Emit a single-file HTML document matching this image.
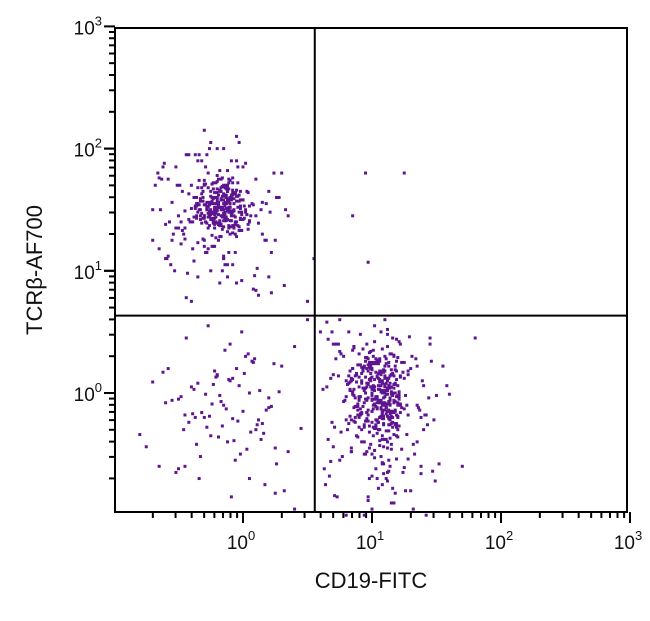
<!DOCTYPE html>
<html><head><meta charset="utf-8">
<style>
html,body{margin:0;padding:0;background:#fff;}
body{width:650px;height:616px;overflow:hidden;font-family:"Liberation Sans",sans-serif;}
svg text{font-family:"Liberation Sans",sans-serif;fill:#111;}
</style></head>
<body>
<svg id="chart" width="650" height="616" viewBox="0 0 650 616" xmlns="http://www.w3.org/2000/svg">
<rect x="115" y="28" width="512" height="484" fill="none" stroke="#000" stroke-width="2"/>
<g id="ticks"></g>
<g id="dots" fill="#5e1590"></g>
<g id="gates"></g>
<text x="371" y="588" font-size="22" text-anchor="middle">CD19-FITC</text>
<text x="42" y="270" font-size="22" text-anchor="middle" transform="rotate(-90 42 270)">TCRβ-AF700</text>
</svg>
<script>
// decades shown on axes (log10)
const xDecades=[0,1,2,3];
const yDecades=[0,1,2,3];
// quadrant gate positions (linear units)
const gateX=3.6;
const gateY=4.3;
// events, values are log10 x 100
const tX=[-15,-20,-10,-25,-5,-18,-12,-30,0,-22,-8,-16,-35,-2,-14,-27,-11,-19,5,-24,-13,-6,-31,-17,-9,-21,-40,-4,-15,-26,-12,-18,8,-23,-10,-33,-7,-20,-14,-28,-1,-16,-45,-11,-19,-5,-25,-13,12,-22,-17,-9,-29,-3,-15,-37,-12,-21,2,-18,-8,-24,-14,-32,-6,-20,-11,-27,4,-16,-50,-13,-19,-7,-23,-10,-30,-2,-17,-15,-22,-12,-26,-9,-18,-34,-5,-14,-21,10,-16,-28,-11,-20,-3,-24,-13,-38,-8,-17,-19,-12,-25,-6,-15,-31,0,-22,-10,-18,-42,-14,-27,-4,-20,-16,15,-23,-9,-13,-29,-7,-21,-17,-36,-2,-11,-19,-26,-14,-55,-8,-24,-16,3,-20,-12,-30,-6,-18,-22,-10,-15,-33,-1,-25,-13,-19,-9,-28,-17,6,-21,-11,-39,-14,-23,-7,-16,-26,-12,-20,-4,-31,-18,-60,-10,-15,18,-24,-8,-13,-22,-35,-5,-17,-27,-11,-19,-3,-14,-29,-16,-21,-9,-47,-12,-25,1,-18,-7,-20,-15,-32,-10,-23,20,-30,-45,-5,2,-38,-52,10,-28,-65,22,-40];
const tY=[155,160,148,165,140,152,170,145,158,135,162,150,155,142,168,147,175,138,153,160,144,130,157,165,149,172,151,137,163,146,158,128,154,167,141,159,150,178,143,156,133,161,149,152,125,166,146,155,139,164,150,145,171,136,158,153,142,160,148,182,131,156,147,163,140,157,150,168,134,152,145,162,138,155,120,149,174,143,159,136,152,165,147,158,141,154,128,161,150,145,169,139,156,152,133,148,160,144,176,137,153,157,142,164,150,126,158,146,155,140,163,148,118,152,167,144,156,139,160,151,185,135,147,158,143,153,115,162,149,141,156,137,171,150,146,159,132,154,144,165,138,152,110,157,148,161,142,155,136,150,168,145,127,158,140,153,147,163,134,156,105,149,172,143,152,138,160,146,155,129,164,141,150,123,157,145,180,137,153,148,162,140,100,155,146,133,159,150,143,166,136,152,112,147,158,141,95,170,126,90,188,108,135,84,195,118,82,75];
const tX2=[-30,-5,-45,10,-60,-20,25,-38,-12,-52,5,-28,-68,15,-42,-8,-33,30,-55,-18,-3,-48,20,-25,-62,-10,-36,8,-58,-22,35,-44,-15,-2,-50,12,-32,-70,-6,-40,18,-26,-57,-14,28,-46,0,-35,-64,-19,22,-41,-9,-53,3,-30,-66,-16,32,-49,-24,7,-37,-59,-11,26,-43,-4,-54,14,-29,-63,-21,-1,-47,17,-34,-56,-13,24,-39,-7,-51,11,-27,-61,-17,33,-44,-23,4,-36,-58,-12,21,-48,-31,9,-42,-65];
const tY2=[120,190,135,175,110,200,125,160,95,185,140,115,170,130,195,105,150,180,125,90,205,140,165,100,185,130,155,85,175,120,145,195,110,165,135,80,190,150,115,170,125,200,140,105,160,130,185,95,150,175,115,140,190,100,165,125,180,145,88,170,120,155,195,110,135,160,98,185,130,150,115,175,140,92,165,125,195,105,155,180,118,145,170,102,135,188,128,150,78,172,138,160,112,182,148,122,165,96,142,176];
const tCX=[-20,-10,-30,-15,-5,-25,-12,-35,0,-18,-8,-28,-22,-3,-14,-32,-9,-24,2,-17,-27,-6,-20,-36,-11,-1,-23,-13,-30,-7,-19,-26,4,-16,-33,-10,-21,-4,-29,-15,-12,-24,-2,-34,-18,-8,-27,-14,-20,5,-31,-11,-23,-6,-17,-37,-13,-26,-3,-19,-9,-29,-16,-22,1,-33,-12,-25,-7,-18,-35,-10,-21,-5,-28,-15,-24,3,-14,-32,-20,-8,-26,-11,-30,-17,-2,-23,-13,-36,-19,-6,-27,-16,-9,-22,0,-34,-12,-25];
const tCY=[150,160,145,170,140,155,165,148,158,138,172,152,143,162,147,168,141,157,150,175,144,163,139,153,167,146,159,142,171,149,156,137,164,151,145,174,140,161,154,147,169,143,158,150,139,166,152,145,173,141,160,148,155,163,138,151,170,144,157,146,162,140,176,149,153,142,165,147,159,137,168,152,144,161,150,141,171,146,156,139,164,148,154,172,143,158,151,140,167,145,162,138,153,169,147,160,142,174,149,155];
const bX=[108,112,104,115,100,110,106,118,102,113,109,96,116,107,111,103,120,105,114,99,108,117,101,110,106,123,104,112,97,115,109,102,119,107,111,94,113,105,108,121,100,116,110,103,114,98,109,118,106,112,92,115,104,110,125,101,107,113,99,117,108,105,111,95,120,103,114,109,100,116,106,112,127,102,108,97,115,110,104,119,107,113,93,111,105,117,101,109,122,106,114,98,112,103,108,118,100,115,110,90,113,106,120,104,111,96,116,108,102,124,109,105,114,99,117,107,112,101,119,94,110,106,115,103,128,108,113,97,111,104,118,100,109,121,106,114,91,112,107,116,102,110,99,119,105,113,108,126,101,115,96,111,104,117,109,103,122,107,114,98,112,106,118,100,110,88,116,105,113,108,130,102,111,95,119,107,114,104,109,120,99,115,106,112,93,117,103,110,108,123,101,113,97,116,105,111,107,119,102,114,89,109,106,121,104,112,100,117,108,115,96,110,103,125,107,113,99,118,105,111,86,116,102,109,132,106,114,98,112,104,120,101,108,115,94,110,107,118,103,113,135,97,122,84,128,92,138,100,126,87,140,95];
const bY=[0,10,-8,15,-15,5,-20,22,-5,12,-25,8,-2,18,-12,28,-30,3,-10,20,-18,7,-35,14,-6,25,-22,2,-14,32,-4,11,-28,17,-9,-40,6,24,-16,-1,13,-24,30,-11,4,-32,19,-7,9,-45,16,-19,26,-3,-13,35,1,-26,21,-8,-38,12,-17,-50,29,-5,8,-21,-2,15,-30,38,-10,5,-15,23,-42,0,-23,11,-6,-55,18,-12,27,-34,3,-19,14,-8,-60,33,-1,-27,9,-14,20,-46,6,-4,25,-20,-36,13,-11,40,-16,2,-29,17,-58,-7,-22,10,31,-13,-65,4,-25,22,-9,-39,15,-3,-18,36,-31,7,-70,-12,19,-24,-44,1,26,-6,-17,12,-52,-28,42,-10,5,-35,16,-21,-75,-2,24,-15,-48,8,-33,30,-8,-62,13,-19,-4,21,-40,3,-26,-68,18,-11,45,-30,-14,10,-80,-5,28,-23,-54,6,-37,14,-9,-20,34,-1,-43,-72,20,-16,-29,2,-58,-12,25,-7,-85,16,-24,-38,9,-3,-47,32,-18,-66,11,-27,-13,48,-50,4,-35,-90,-6,22,-22,-61,15,-9,-42,7,-78,-31,37,-15,-53,0,-95,18,-26,-45,12,-70,-19,30,-57,5,-100,-38,50,-82,25,-64,-10,-88,40,-48,15,-30,-20,5];
const bX2=[90,125,80,135,95,70,140,85,118,75,130,100,65,145,88,122,78,138,92,115,72,150,84,128,98,68,142,82,120,76,134,94,62,148,86,124,74,136,102,66,155,80,126,90,71,140,84,119,96,64,146,79,132,88,112,69,152,83,127,93,73,139,87,121,77,144,99,67,131,81,160,91,70,137,85,117,75,143,97,63,129,89,114,72,149,82,123,95,68,141,86,116,78,135,92,65,147,80,125,100,74,133,87,119,71,158,94,66,138,83,128,90,76,142,96,69,130,84,121,73];
const bY2=[-20,25,10,-40,-5,15,-30,35,0,-55,20,-15,5,45,-35,-10,30,-60,8,-25,40,-2,-45,18,-70,12,-18,50,-8,-32,28,-50,3,-22,38,-65,14,-12,55,-38,22,-3,-80,32,-28,6,-48,44,-16,-75,26,-6,-42,16,52,-24,-58,2,-34,36,-85,10,-20,42,-52,-4,24,-68,30,-30,-1,48,-44,-14,20,-90,34,-26,8,-62,46,-36,-9,28,-72,14,-46,4,-56,-18,38,-78,-7,22,-40,58,-64,-22,12,-95,40,-50,-11,26,-84,6,-28,44,-66,18,-54,-3,32,-100,-16,50];
const bCX=[100,92,108,85,115,96,104,88,112,99,82,118,94,106,90,110,86,102,120,97,91,113,84,105,100,117,89,95,109,83,121,98,93,111,87,103,114,81,107,96,119,90,101,85,116,94,108,88,122,99,92,104,86,112,97,115,83,106,101,89,118,95,110,87,103,120,91,98,113,84,107,100,117,93,105,82,111,96,119,88,102,90,114,97,108,85,121,94,101,116,89,104,92,110,86,99,118,95,106,83,112,100,91,115,87,103,96,109,120,93,98,84,113,105,90,117,97,88,107,101,122,92,111,86,104,95,116,99,89,108,94,119,85,102,110,91,97,114,100,87];
const bCY=[0,10,-10,20,-20,5,-5,15,-15,25,-25,8,-8,28,-28,12,-12,2,-2,18,-18,22,-22,6,-6,14,-14,26,-26,3,-3,11,-11,24,-24,17,-17,7,-7,29,-27,13,-13,1,-1,21,-21,9,-9,16,-16,27,-23,4,-4,19,-19,10,-10,23,-15,0,-8,14,-26,6,-3,25,-20,12,-12,3,-6,18,-24,8,-1,20,-18,15,-9,5,-22,28,-14,11,-5,2,-28,16,-11,26,-17,7,-2,22,-25,13,-7,9,-19,19,-13,1,-4,24,-21,17,-10,4,-27,10,-15,27,-6,0,-23,15,-8,6,-16,21,-12,3,-3,29,-20,12,-9,8,-26,18,-1,5,-14,23,-18,14,-5];
const dnX=[-15,5,-30,-10,10,-40,0,-20,15,-50,-5,-25,20,-35,-12,8,-45,-18,25,-8,-60,2,-28,12,-38,-2,-22,18,-55,-14,6,-32,30,-6,-48,-20,14,-42,-10,22,-65,-3,-26,9,-36,-16,28,-52,1,-24,16,-44,-8,35,-70,-13,4,-34,20,-58,-19,11,-1,-39,26,-29,-11,-75,7,-46,17,-23,-4,40,-33,-17,32,-62,-7,13,-27,45,-50,-21,3,-9,24,-37,50,-80,-15,10];
const dnY=[-10,0,-20,10,-30,5,-15,15,-25,-5,20,-35,-12,8,-40,25,-18,-2,-45,12,-8,30,-28,-22,3,-50,18,-14,-6,35,-32,-16,22,-55,-3,14,-38,-24,40,-11,-60,6,-19,28,-42,-27,1,-65,16,-9,-33,45,-21,-48,9,-13,32,-70,-4,20,-36,-26,50,-17,-58,-1,11,-44,26,-30,-75,7,-23,38,-52,-7,-80,17,-39,2,55,-29,-62,13,-46,-85,24,-20,60,-34];
const oX=[95,125,85,55,97,-30,-25,-15,-5,-35,75,50,60,110,70,5,-45,25,180,170,145,-70,40,80];
const oY=[180,180,145,110,107,215,205,200,210,190,60,75,50,60,40,-70,-60,-82,45,-60,40,125,-95,-100];
const groups=[[tX,tY],[tX2,tY2],[tCX,tCY],[bX,bY],[bX2,bY2],[bCX,bCY],[dnX,dnY],[oX,oY]];

const X0=243, XD=129, Y0=393, YD=122.2;
const xs=v=>X0+v*XD;          // v = log10 value
const ys=v=>Y0-v*YD;
const NS="http://www.w3.org/2000/svg";
const svg=document.getElementById('chart');
const tg=document.getElementById('ticks'), dg=document.getElementById('dots'), gg=document.getElementById('gates');
function mk(t,a,p){const e=document.createElementNS(NS,t);for(const k in a)e.setAttribute(k,a[k]);p.appendChild(e);return e;}

for(let d=-1;d<3;d++){for(let m=1;m<=10;m++){const lv=d+Math.log10(m);if(lv<-0.99)continue;const x=xs(lv);const major=(m===1||m===10);
const t=mk('line',{x1:x,x2:x,y1:512,y2:512+(major?11:6),stroke:'#000','stroke-width':2},tg);

}}
for(let d=-1;d<3;d++){for(let m=1;m<=10;m++){const lv=d+Math.log10(m);if(lv<-0.97)continue;const y=ys(lv);const major=(m===1||m===10);
const t=mk('line',{x1:115,x2:115-(major?11:6),y1:y,y2:y,stroke:'#000','stroke-width':2},tg);

}}
xDecades.forEach(d=>{const t=mk('text',{x:xs(d)-2,y:549,'font-size':19,'text-anchor':'middle'},svg);


t.innerHTML='10<tspan dy="-9" font-size="13">'+d+'</tspan>';});
yDecades.forEach(d=>{const t=mk('text',{x:102,y:ys(d)+8,'font-size':19,'text-anchor':'end'},svg);


t.innerHTML='10<tspan dy="-9" font-size="13">'+d+'</tspan>';});

groups.forEach(([gx,gy])=>{for(let i=0;i<Math.min(gx.length,gy.length);i++){
const c=mk('rect',{x:xs(gx[i]/100)-1.5,y:ys(gy[i]/100)-1.5,width:3,height:3},dg);

}});

const gx=xs(Math.log10(gateX)), gy=ys(Math.log10(gateY));
const v=mk('line',{x1:gx,x2:gx,y1:28,y2:512,stroke:'#000','stroke-width':2},gg);


const h=mk('line',{x1:115,x2:627,y1:gy,y2:gy,stroke:'#000','stroke-width':2},gg);


</script>
</body></html>
